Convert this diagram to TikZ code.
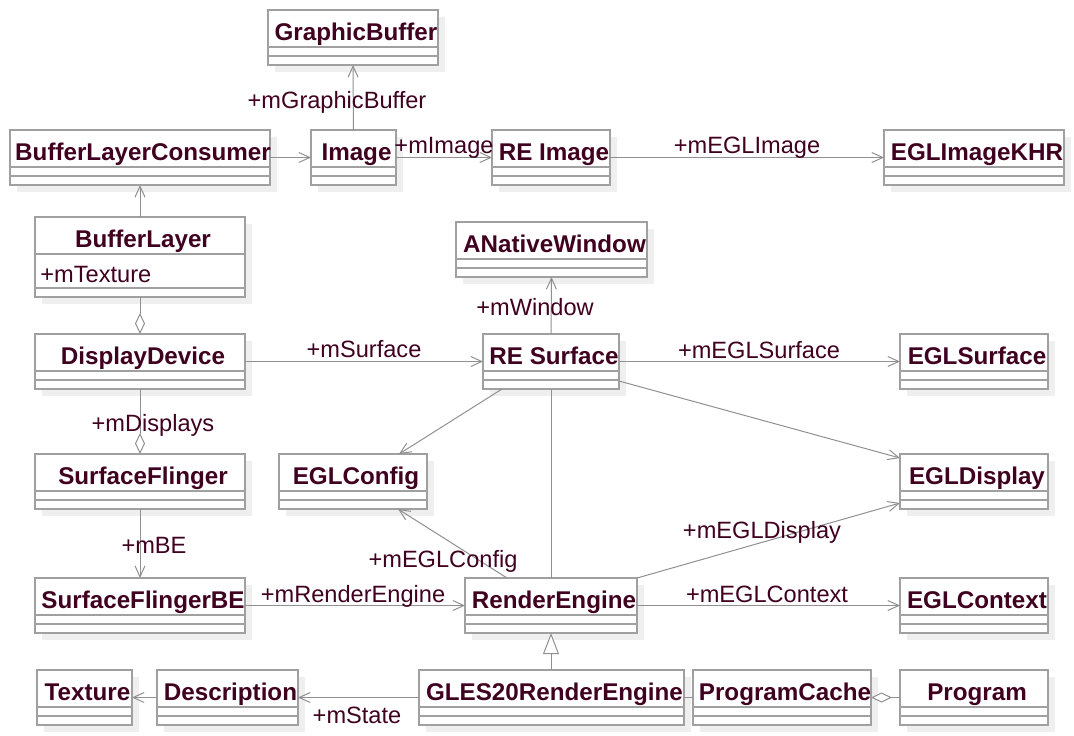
\documentclass[tikz,border=0pt]{standalone}
\usepackage{fontspec}
\setmainfont{Liberation Sans}
\usepackage{tikz}
\usepackage{xcolor}
\usetikzlibrary{arrows.meta, positioning, fit, shadows, calc}
\definecolor{UML_Text}{HTML}{400020}
\definecolor{UML_Border}{HTML}{A0A0A0}
\definecolor{UML_Line}{HTML}{909090}
\definecolor{UML_Shadow}{HTML}{EFEFEF}

% class box: [height]{id}{left}{top}{right}{name}
\newcommand{\umlclass}[6][55]{%
    \node[classbox, fit={(#3,#4) (#5,#4+#1)}] (#2) {};
    \draw[classline] (#3,#4+37) -- (#5,#4+37) (#3,#4+#1-9) -- (#5,#4+#1-9);
    \node[classname] (#2-name) at ({(#3+#5)/2+3},#4+30) {#6};
}

\begin{document}
\begin{tikzpicture}[x=0.5pt, y=-0.5pt,
    classbox/.style={draw=UML_Border, line width=1pt, fill=white, inner sep=0pt, outer sep=0pt,
        drop shadow={shadow xshift=3.5pt, shadow yshift=-3.5pt, fill=UML_Shadow, opacity=1}},
    classline/.style={draw=UML_Border, line width=1pt},
    classname/.style={anchor=base, inner sep=0pt, text=UML_Text, font=\fontsize{12.1}{14}\selectfont\bfseries},
    rolename/.style={anchor=base, inner sep=0pt, text=UML_Text, font=\fontsize{11.8}{14}\selectfont},
    link/.style={draw=UML_Line, line width=0.5pt},
    assoc/.style={link, -{Straight Barb[length=5.5pt, width=5pt]}},
    aggr/.style={link, {Diamond[open, fill=white, length=10.5pt, width=5pt]}-},
    gen/.style={link, -{Triangle[open, fill=white, length=10.5pt, width=8pt]}}]
    \useasboundingbox (0,0) rectangle (1074,735);

    % Classes
    \umlclass{graphicbuffer}{268}{10}{438}{GraphicBuffer}
    \umlclass{consumer}{10}{130}{270}{BufferLayerConsumer}
    \umlclass{image}{311}{130}{396}{Image}
    \umlclass{reimage}{492}{130}{610}{RE Image}
    \umlclass{eglimage}{884}{130}{1064}{EGLImageKHR}
    \umlclass{nativewindow}{456}{222}{647}{ANativeWindow}
    \umlclass[80]{bufferlayer}{35}{217}{245}{BufferLayer}
    \node[rolename, anchor=base west] (texattr) at (40,282) {+mTexture};
    \umlclass{displaydevice}{35}{334}{245}{DisplayDevice}
    \umlclass{resurface}{483}{334}{619}{RE Surface}
    \umlclass{eglsurface}{900}{334}{1048}{EGLSurface}
    \umlclass{surfaceflinger}{35}{454}{245}{SurfaceFlinger}
    \umlclass{eglconfig}{279}{454}{427}{EGLConfig}
    \umlclass{egldisplay}{900}{454}{1048}{EGLDisplay}
    \umlclass{flingerbe}{35}{578}{245}{SurfaceFlingerBE}
    \umlclass{renderengine}{465}{578}{637}{RenderEngine}
    \umlclass{eglcontext}{900}{578}{1048}{EGLContext}
    \umlclass{texture}{37}{670}{132}{Texture}
    \umlclass{description}{157}{670}{298}{Description}
    \umlclass{gles}{419}{670}{684}{GLES20RenderEngine}
    \umlclass{programcache}{693}{670}{871}{ProgramCache}
    \umlclass{program}{900}{670}{1048}{Program}

    % Associations
    \draw[assoc] (image.north) -- (graphicbuffer.south);
    \node[rolename] (lgraphic) at (337,108) {+mGraphicBuffer};
    \draw[assoc] (consumer.east) -- (image.west);
    \draw[assoc] (image.east) -- (reimage.west);
    \node[rolename] (limage) at (444,153) {+mImage};
    \draw[assoc] (reimage.east) -- (eglimage.west);
    \node[rolename] (leglimage) at (747,153) {+mEGLImage};
    \draw[assoc] (bufferlayer.north) -- (consumer.south);
    \draw[aggr] (displaydevice.north) -- (bufferlayer.south);
    \draw[aggr] (surfaceflinger.north) -- (displaydevice.south);
    \node[rolename] (ldisplays) at (153,431) {+mDisplays};
    \draw[assoc] (surfaceflinger.south) -- (flingerbe.north);
    \node[rolename] (lbe) at (154,553) {+mBE};
    \draw[assoc] (displaydevice.east) -- (resurface.west);
    \node[rolename] (lsurface) at (364,357) {+mSurface};
    \draw[assoc] (resurface.north) -- (nativewindow.south);
    \node[rolename] (lwindow) at (535,315) {+mWindow};
    \draw[assoc] (resurface.east) -- (eglsurface.west);
    \node[rolename] (leglsurface) at (759,358) {+mEGLSurface};
    \draw[assoc] ($(resurface.south west)+(19,0)$) -- ($(eglconfig.north east)+(-28,0)$);
    \draw[assoc] ($(resurface.south east)+(0,-8)$) -- ($(egldisplay.north west)+(0,4)$);
    \draw[link] (resurface.south) -- (renderengine.north);
    \draw[assoc] ($(renderengine.north west)+(42,0)$) -- ($(eglconfig.south east)+(-29,0)$);
    \node[rolename] (leglconfig) at (443,567) {+mEGLConfig};
    \draw[assoc] (renderengine.north east) -- ($(egldisplay.south west)+(0,-6)$);
    \node[rolename] (legldisplay) at (762,538) {+mEGLDisplay};
    \draw[assoc] (flingerbe.east) -- (renderengine.west);
    \node[rolename] (lrender) at (353,602) {+mRenderEngine};
    \draw[assoc] (renderengine.east) -- (eglcontext.west);
    \node[rolename] (leglcontext) at (767,602) {+mEGLContext};

    % Bottom row
    \draw[gen] (gles.north -| renderengine.south) -- (renderengine.south);
    \draw[assoc] (gles.west) -- (description.east);
    \node[rolename] (lstate) at (357,723) {+mState};
    \draw[assoc] (description.west) -- (texture.east);
    \draw[link] (gles.east) -- (programcache.west);
    \draw[aggr] (programcache.east) -- (program.west);
\end{tikzpicture}
\end{document}
